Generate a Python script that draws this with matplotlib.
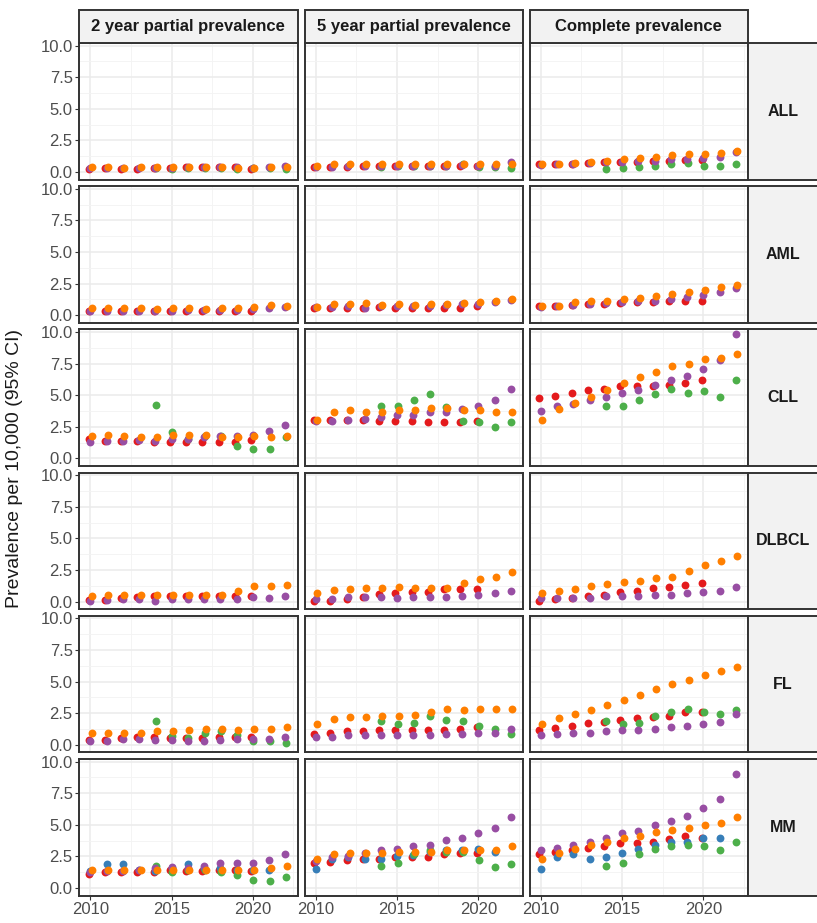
import matplotlib
matplotlib.use('Agg')
import matplotlib.pyplot as plt
from matplotlib.patches import Rectangle
import numpy as np

plt.rcParams['font.family'] = ['Liberation Sans', 'DejaVu Sans']

years = list(range(2010, 2023))
measures = ['2 year partial prevalence', '5 year partial prevalence', 'Complete prevalence']
cancers = ['ALL', 'AML', 'CLL', 'DLBCL', 'FL', 'MM']
x_ticks = [2010, 2015, 2020]
y_ticks = [0.0, 2.5, 5.0, 7.5, 10.0]

# first year of each coloured series (green only starts in 2014)
start_year = {'red': 2010, 'blue': 2010, 'green': 2014, 'purple': 2010, 'orange': 2010}

# ALL
all_2y_red = [0.25, 0.28, 0.27, 0.25, 0.28, 0.3, 0.35, 0.35, 0.35, 0.35, 0.25]
all_2y_green = [0.3, 0.25, 0.3, 0.3, 0.3, 0.25, 0.3, 0.3, 0.2]
all_2y_purple = [0.3, 0.3, 0.3, 0.3, 0.3, 0.3, 0.35, 0.35, 0.35, 0.35, 0.3, 0.35, 0.45]
all_2y_orange = [0.35, 0.35, 0.32, 0.35, 0.35, 0.35, 0.35, 0.35, 0.35, 0.32, 0.3, 0.35, 0.4]
all_5y_red = [0.35, 0.4, 0.4, 0.45, 0.45, 0.5, 0.45, 0.5, 0.45, 0.45, 0.45]
all_5y_green = [0.4, 0.45, 0.45, 0.5, 0.5, 0.6, 0.35, 0.35, 0.3]
all_5y_purple = [0.4, 0.4, 0.45, 0.45, 0.45, 0.5, 0.5, 0.5, 0.5, 0.55, 0.5, 0.5, 0.8]
all_5y_orange = [0.5, 0.6, 0.6, 0.6, 0.6, 0.65, 0.6, 0.6, 0.6, 0.6, 0.6, 0.6, 0.65]
all_cp_red = [0.6, 0.62, 0.65, 0.7, 0.75, 0.8, 0.8, 0.85, 0.9, 0.95, 0.95]
all_cp_green = [0.2, 0.3, 0.42, 0.5, 0.6, 0.68, 0.5, 0.5, 0.6]
all_cp_purple = [0.58, 0.6, 0.65, 0.7, 0.75, 0.8, 0.85, 0.9, 1.0, 1.05, 1.1, 1.2, 1.55]
all_cp_orange = [0.6, 0.62, 0.68, 0.75, 0.9, 1.0, 1.1, 1.2, 1.3, 1.4, 1.4, 1.5, 1.65]

# AML
aml_2y_red = [0.3, 0.35, 0.35, 0.3, 0.3, 0.35, 0.35, 0.35, 0.35, 0.35, 0.35]
aml_2y_purple = [0.35, 0.3, 0.35, 0.3, 0.35, 0.35, 0.4, 0.4, 0.4, 0.4, 0.45, 0.55, 0.65]
aml_2y_orange = [0.55, 0.55, 0.55, 0.55, 0.5, 0.55, 0.55, 0.5, 0.55, 0.6, 0.65, 0.8, 0.75]
aml_5y_red = [0.6, 0.6, 0.6, 0.6, 0.65, 0.6, 0.55, 0.6, 0.6, 0.6, 0.7]
aml_5y_purple = [0.65, 0.65, 0.7, 0.55, 0.7, 0.7, 0.7, 0.75, 0.8, 0.85, 0.9, 1.05, 1.2]
aml_5y_orange = [0.65, 0.9, 0.9, 0.95, 0.8, 0.85, 0.8, 0.85, 0.85, 0.95, 1.0, 1.1, 1.25]
aml_cp_red = [0.7, 0.7, 0.8, 0.85, 0.9, 0.95, 1.0, 1.05, 1.1, 1.15, 1.1]
aml_cp_purple = [0.65, 0.7, 0.8, 0.9, 0.95, 1.0, 1.1, 1.15, 1.3, 1.45, 1.6, 1.85, 2.15]
aml_cp_orange = [0.7, 0.75, 1.0, 1.1, 1.15, 1.25, 1.35, 1.5, 1.65, 1.85, 1.95, 2.2, 2.4]

# CLL
cll_2y_red = [1.5, 1.4, 1.4, 1.4, 1.3, 1.3, 1.3, 1.3, 1.3, 1.3, 1.45]
cll_2y_green = [4.2, 2.05, 1.5, 1.75, 1.75, 0.95, 0.75, 0.75, 1.65]
cll_2y_purple = [1.3, 1.4, 1.4, 1.45, 1.4, 1.55, 1.5, 1.7, 1.75, 1.75, 1.85, 2.2, 2.65]
cll_2y_orange = [1.75, 1.85, 1.75, 1.65, 1.65, 1.85, 1.85, 1.85, 1.65, 1.65, 1.75, 1.65, 1.75]
cll_5y_red = [3.05, 3.05, 3.05, 3.05, 2.95, 2.95, 2.95, 2.85, 2.85, 2.85, 2.95]
cll_5y_green = [4.15, 4.15, 4.65, 5.05, 4.05, 2.95, 2.85, 2.45, 2.85]
cll_5y_purple = [2.95, 2.95, 3.05, 3.15, 3.25, 3.45, 3.45, 3.65, 3.7, 3.9, 4.15, 4.65, 5.5]
cll_5y_orange = [3.05, 3.7, 3.85, 3.7, 3.7, 3.85, 3.85, 3.95, 3.95, 3.85, 3.85, 3.65, 3.7]
cll_cp_red = [4.74, 4.95, 5.18, 5.4, 5.5, 5.73, 5.73, 5.73, 5.84, 5.94, 6.2]
cll_cp_green = [4.16, 4.16, 4.6, 5.05, 5.5, 5.16, 5.3, 4.84, 6.18]
cll_cp_purple = [3.74, 4.1, 4.3, 4.6, 4.84, 5.18, 5.4, 5.84, 6.2, 6.52, 7.1, 7.8, 9.8]
cll_cp_orange = [3.06, 3.87, 4.4, 4.84, 5.4, 5.94, 6.4, 6.86, 7.3, 7.5, 7.83, 7.95, 8.27]

# DLBCL
dlbcl_2y_red = [0.13, 0.15, 0.26, 0.34, 0.4, 0.44, 0.44, 0.4, 0.4, 0.44, 0.44]
dlbcl_2y_purple = [0.08, 0.13, 0.2, 0.2, 0.08, 0.2, 0.2, 0.2, 0.2, 0.2, 0.34, 0.3, 0.42]
dlbcl_2y_orange = [0.42, 0.52, 0.52, 0.52, 0.52, 0.52, 0.52, 0.52, 0.52, 0.84, 1.2, 1.2, 1.3]
dlbcl_5y_red = [0.08, 0.08, 0.2, 0.34, 0.57, 0.65, 0.78, 0.78, 1.0, 1.0, 1.0]
dlbcl_5y_purple = [0.2, 0.2, 0.34, 0.34, 0.34, 0.3, 0.34, 0.34, 0.34, 0.44, 0.52, 0.65, 0.86]
dlbcl_5y_orange = [0.7, 0.9, 1.0, 1.1, 1.1, 1.15, 1.05, 1.1, 1.1, 1.44, 1.75, 1.96, 2.3]
dlbcl_cp_red = [0.08, 0.18, 0.26, 0.44, 0.52, 0.78, 0.86, 1.05, 1.17, 1.3, 1.44]
dlbcl_cp_purple = [0.26, 0.26, 0.26, 0.26, 0.4, 0.4, 0.4, 0.5, 0.52, 0.65, 0.76, 0.86, 1.17]
dlbcl_cp_orange = [0.65, 0.86, 1.0, 1.2, 1.38, 1.54, 1.62, 1.88, 1.96, 2.4, 2.85, 3.2, 3.6]

# FL
fl_2y_red = [0.4, 0.4, 0.5, 0.6, 0.6, 0.5, 0.5, 0.5, 0.6, 0.6, 0.6]
fl_2y_green = [1.85, 0.68, 0.57, 0.95, 1.07, 0.78, 0.3, 0.3, 0.15]
fl_2y_purple = [0.3, 0.3, 0.45, 0.45, 0.4, 0.4, 0.3, 0.3, 0.4, 0.45, 0.45, 0.45, 0.6]
fl_2y_orange = [0.95, 0.95, 0.95, 0.95, 1.07, 1.07, 1.17, 1.28, 1.28, 1.17, 1.28, 1.28, 1.38]
fl_5y_red = [0.84, 0.95, 1.07, 1.07, 1.17, 1.17, 1.17, 1.17, 1.17, 1.28, 1.38]
fl_5y_green = [1.85, 1.62, 1.72, 2.27, 1.96, 1.85, 1.51, 1.28, 0.84]
fl_5y_purple = [0.6, 0.6, 0.73, 0.73, 0.73, 0.73, 0.73, 0.73, 0.84, 0.84, 0.95, 0.95, 1.28]
fl_5y_orange = [1.62, 2.06, 2.17, 2.17, 2.27, 2.27, 2.38, 2.6, 2.82, 2.72, 2.82, 2.82, 2.82]
fl_cp_red = [1.2, 1.3, 1.51, 1.72, 1.83, 1.96, 2.09, 2.17, 2.27, 2.6, 2.6]
fl_cp_green = [1.85, 1.64, 1.75, 2.3, 2.6, 2.85, 2.6, 2.4, 2.74]
fl_cp_purple = [0.73, 0.84, 0.94, 0.94, 1.07, 1.17, 1.17, 1.28, 1.41, 1.51, 1.62, 1.83, 2.4]
fl_cp_orange = [1.62, 2.09, 2.4, 2.72, 3.16, 3.5, 3.94, 4.39, 4.83, 5.14, 5.48, 5.82, 6.14]

# MM
mm_2y_red = [1.12, 1.22, 1.22, 1.22, 1.22, 1.43, 1.3, 1.3, 1.43, 1.43, 1.3]
mm_2y_blue = [1.3, 1.9, 1.9, 1.43, 1.3, 1.56, 1.9, 1.56, 1.56, 1.43, 1.43, 1.43]
mm_2y_green = [1.77, 1.22, 1.4, 1.43, 1.22, 0.99, 0.65, 0.55, 0.88]
mm_2y_purple = [1.22, 1.3, 1.35, 1.43, 1.56, 1.66, 1.56, 1.77, 2.0, 2.0, 2.0, 2.2, 2.65]
mm_2y_orange = [1.43, 1.43, 1.43, 1.43, 1.43, 1.43, 1.43, 1.43, 1.43, 1.43, 1.43, 1.56, 1.77]
mm_5y_red = [2.0, 2.08, 2.2, 2.31, 2.31, 2.42, 2.42, 2.42, 2.65, 2.75, 2.75]
mm_5y_blue = [1.53, 2.31, 2.45, 2.31, 2.31, 2.55, 2.6, 2.86, 2.99, 2.99, 3.09, 2.86]
mm_5y_green = [1.77, 2.0, 2.65, 2.99, 2.86, 2.86, 2.2, 1.66, 1.87]
mm_5y_purple = [2.1, 2.42, 2.55, 2.75, 2.99, 3.09, 3.3, 3.43, 3.77, 3.97, 4.31, 4.75, 5.64]
mm_5y_orange = [2.31, 2.65, 2.75, 2.75, 2.75, 2.86, 2.86, 2.86, 2.99, 2.99, 2.99, 2.99, 3.3]
mm_cp_red = [2.65, 2.86, 2.99, 3.19, 3.3, 3.53, 3.53, 3.64, 3.87, 4.08, 3.97]
mm_cp_blue = [1.53, 2.42, 2.65, 2.31, 2.42, 2.75, 3.09, 3.43, 3.64, 3.64, 3.97, 3.97]
mm_cp_green = [1.77, 2.0, 2.65, 3.09, 3.3, 3.43, 3.3, 2.99, 3.64]
mm_cp_purple = [2.99, 3.19, 3.43, 3.64, 3.97, 4.31, 4.52, 4.96, 5.3, 5.71, 6.29, 7.04, 9.01]
mm_cp_orange = [2.31, 2.75, 3.09, 3.43, 3.64, 3.97, 4.08, 4.42, 4.62, 4.75, 4.99, 5.17, 5.64]

panels = {
    ('ALL', 0): {'red': all_2y_red, 'green': all_2y_green, 'purple': all_2y_purple, 'orange': all_2y_orange},
    ('ALL', 1): {'red': all_5y_red, 'green': all_5y_green, 'purple': all_5y_purple, 'orange': all_5y_orange},
    ('ALL', 2): {'red': all_cp_red, 'green': all_cp_green, 'purple': all_cp_purple, 'orange': all_cp_orange},
    ('AML', 0): {'red': aml_2y_red, 'purple': aml_2y_purple, 'orange': aml_2y_orange},
    ('AML', 1): {'red': aml_5y_red, 'purple': aml_5y_purple, 'orange': aml_5y_orange},
    ('AML', 2): {'red': aml_cp_red, 'purple': aml_cp_purple, 'orange': aml_cp_orange},
    ('CLL', 0): {'red': cll_2y_red, 'green': cll_2y_green, 'purple': cll_2y_purple, 'orange': cll_2y_orange},
    ('CLL', 1): {'red': cll_5y_red, 'green': cll_5y_green, 'purple': cll_5y_purple, 'orange': cll_5y_orange},
    ('CLL', 2): {'red': cll_cp_red, 'green': cll_cp_green, 'purple': cll_cp_purple, 'orange': cll_cp_orange},
    ('DLBCL', 0): {'red': dlbcl_2y_red, 'purple': dlbcl_2y_purple, 'orange': dlbcl_2y_orange},
    ('DLBCL', 1): {'red': dlbcl_5y_red, 'purple': dlbcl_5y_purple, 'orange': dlbcl_5y_orange},
    ('DLBCL', 2): {'red': dlbcl_cp_red, 'purple': dlbcl_cp_purple, 'orange': dlbcl_cp_orange},
    ('FL', 0): {'red': fl_2y_red, 'green': fl_2y_green, 'purple': fl_2y_purple, 'orange': fl_2y_orange},
    ('FL', 1): {'red': fl_5y_red, 'green': fl_5y_green, 'purple': fl_5y_purple, 'orange': fl_5y_orange},
    ('FL', 2): {'red': fl_cp_red, 'green': fl_cp_green, 'purple': fl_cp_purple, 'orange': fl_cp_orange},
    ('MM', 0): {'red': mm_2y_red, 'blue': mm_2y_blue, 'green': mm_2y_green, 'purple': mm_2y_purple, 'orange': mm_2y_orange},
    ('MM', 1): {'red': mm_5y_red, 'blue': mm_5y_blue, 'green': mm_5y_green, 'purple': mm_5y_purple, 'orange': mm_5y_orange},
    ('MM', 2): {'red': mm_cp_red, 'blue': mm_cp_blue, 'green': mm_cp_green, 'purple': mm_cp_purple, 'orange': mm_cp_orange},
}

# Set1 colours and a small dodge so overlapping points stay visible
colours = {'red': '#E41A1C', 'blue': '#377EB8', 'green': '#4DAF4A', 'purple': '#984EA3', 'orange': '#FF7F00'}
dodge = {'red': -0.1, 'blue': 0.0, 'green': 0.03, 'purple': 0.0, 'orange': 0.1}

W, H = 817, 923
fig = plt.figure(figsize=(W / 100, H / 100), dpi=100)

col_left = [79, 304.5, 529.5]
panel_w = 218.5
row_top = [43 + i * 143.2 for i in range(6)]
panel_h = 136.5
strip_top, strip_h = 10, 33
border = '#333333'
strip_fill = '#F2F2F2'


def fig_rect(x, y, w, h):
    return [x / W, 1 - (y + h) / H, w / W, h / H]


for i, cancer in enumerate(cancers):
    for j in range(3):
        ax = fig.add_axes(fig_rect(col_left[j], row_top[i], panel_w, panel_h))
        ax.set_xlim(2009.3, 2022.75)
        ax.set_ylim(-0.6, 10.2)
        ax.set_xticks(x_ticks)
        ax.set_xticks([2012.5, 2017.5, 2022.5], minor=True)
        ax.set_yticks(y_ticks)
        ax.set_yticks([1.25, 3.75, 6.25, 8.75], minor=True)
        ax.grid(which='major', color='#EBEBEB', linewidth=1.1)
        ax.grid(which='minor', color='#F3F3F3', linewidth=0.6)
        ax.set_axisbelow(True)
        for s in ax.spines.values():
            s.set_color(border)
            s.set_linewidth(1.4)
        ax.tick_params(which='minor', length=0)
        ax.tick_params(which='major', length=3, color=border, labelcolor='#4D4D4D',
                       labelsize=12, pad=1.5)
        if j > 0:
            ax.tick_params(axis='y', left=False, labelleft=False)
        else:
            ax.set_yticklabels(['%.1f' % v for v in y_ticks])
        if i < 5:
            ax.tick_params(axis='x', bottom=False, labelbottom=False)

        for name in ['red', 'blue', 'green', 'purple', 'orange']:
            vals = panels[(cancer, j)].get(name)
            if vals is None:
                continue
            xs = np.arange(start_year[name], start_year[name] + len(vals)) + dodge[name]
            ax.scatter(xs, vals, s=32, color=colours[name], linewidths=0, zorder=3)

    # right strip with cancer name
    fig.patches.append(Rectangle((748 / W, 1 - (row_top[i] + panel_h) / H), 80 / W, panel_h / H,
                                 transform=fig.transFigure, facecolor=strip_fill,
                                 edgecolor=border, linewidth=1.4, figure=fig))
    fig.text(783 / W, 1 - (row_top[i] + panel_h / 2) / H, cancer, ha='center', va='center',
             fontsize=11.5, fontweight='bold', color='#1A1A1A')

# top strips with measure names
for j, m in enumerate(measures):
    fig.patches.append(Rectangle((col_left[j] / W, 1 - (strip_top + strip_h) / H), panel_w / W, strip_h / H,
                                 transform=fig.transFigure, facecolor=strip_fill,
                                 edgecolor=border, linewidth=1.4, figure=fig))
    fig.text((col_left[j] + panel_w / 2) / W, 1 - (strip_top + strip_h / 2) / H, m,
             ha='center', va='center', fontsize=12, fontweight='bold', color='#1A1A1A')

fig.text(15 / W, 1 - 469 / H, 'Prevalence per 10,000 (95% CI)', rotation=90,
         ha='center', va='center', fontsize=14, color='#1A1A1A')

fig.savefig('out.png', dpi=100, facecolor='white')
